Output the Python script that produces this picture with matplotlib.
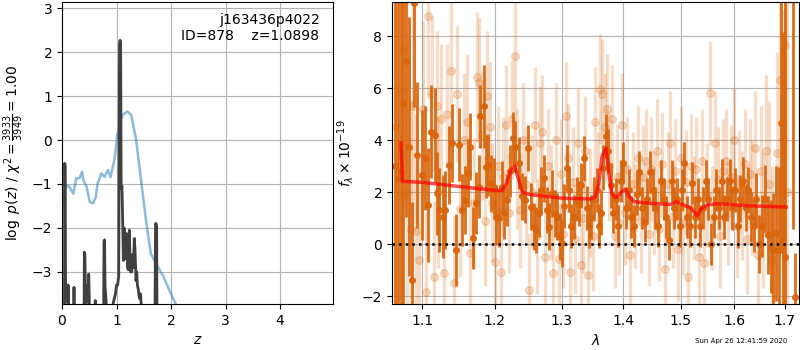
import matplotlib
matplotlib.use('Agg')
import matplotlib.pyplot as plt
from matplotlib.ticker import NullLocator, NullFormatter

# p(z) panel
chi2_z = [0.00, 0.07, 0.13, 0.21, 0.26, 0.32, 0.37, 0.39, 0.45, 0.51, 0.57, 0.62, 0.65,
          0.72, 0.78, 0.84, 0.89, 0.96, 1.02, 1.11, 1.20, 1.27, 1.36, 1.45, 1.54,
          1.63, 1.76, 1.85, 1.97, 2.09, 2.20]
chi2_val = [-1.52, -1.03, -1.06, -1.22, -0.87, -0.87, -0.72, -0.91, -1.06, -1.41, -1.44,
            -1.29, -1.00, -0.76, -0.84, -0.68, -0.84, -0.46, 0.15, 0.57, 0.65, 0.57,
            0.00, -0.91, -1.83, -2.59, -2.89, -3.08, -3.42, -3.74, -4.10]

pz_z = [0.00, 0.045, 0.05, 0.058, 0.065, 0.08, 0.09, 0.10, 0.11, 0.12, 0.13,
        0.21, 0.22, 0.23,
        0.40, 0.41, 0.42, 0.43, 0.45, 0.47, 0.48, 0.49, 0.50, 0.51,
        0.60, 0.61, 0.62,
        0.76, 0.77, 0.78, 0.79, 0.80, 0.81, 0.82,
        0.92, 0.94, 0.96, 0.98, 1.00, 1.02, 1.04, 1.055, 1.065, 1.075, 1.085,
        1.10, 1.115, 1.125, 1.138, 1.156, 1.174, 1.187, 1.20, 1.217, 1.235,
        1.248, 1.26, 1.278, 1.297, 1.31, 1.325, 1.339, 1.358, 1.37, 1.382,
        1.40, 1.419, 1.44, 1.456, 1.47,
        1.70, 1.715, 1.725, 1.735, 1.745, 2.00, 5.00]
pz_val = [-5, -5, -0.53, -0.60, -3.25, -3.35, -3.30, -3.70, -3.30, -3.35, -5,
          -5, -3.35, -5,
          -5, -2.55, -2.60, -3.55, -3.70, -3.30, -3.50, -3.05, -3.60, -5,
          -5, -3.65, -5,
          -5, -2.30, -2.27, -3.35, -3.50, -3.70, -5,
          -5, -3.70, -3.60, -3.50, -3.30, -3.30, -3.10, 2.20, 2.27, 2.20, -1.10,
          -1.05, -2.00, -2.74, -2.00, -2.70, -2.20, -2.13, -2.90, -2.95, -2.05,
          -2.80, -3.00, -3.00, -2.60, -2.90, -2.24, -2.50, -3.20, -3.00, -3.30,
          -3.40, -3.60, -3.50, -3.80, -5,
          -5, -1.90, -1.90, -1.95, -5, -5, -5]

# spectrum panel, bright beam
wave_a = [1.0640, 1.0680, 1.0721, 1.0743, 1.0786, 1.0825, 1.0868, 1.0891, 1.0934, 1.0992,
          1.1036, 1.1076, 1.1116, 1.1170, 1.1201, 1.1228, 1.1274, 1.1309, 1.1360, 1.1401,
          1.1452, 1.1488, 1.1535, 1.1581, 1.1613, 1.1641, 1.1689, 1.1725, 1.1768, 1.1792,
          1.1839, 1.1873, 1.1906, 1.1945, 1.1982, 1.2022, 1.2061, 1.2105, 1.2138, 1.2178,
          1.2226, 1.2266, 1.2300, 1.2355, 1.2400, 1.2445, 1.2484, 1.2525, 1.2574, 1.2605,
          1.2646, 1.2687, 1.2727, 1.2768, 1.2810, 1.2850, 1.2892, 1.2934, 1.2975, 1.3006,
          1.3037, 1.3091, 1.3122, 1.3154, 1.3195, 1.3238, 1.3281, 1.3313, 1.3355, 1.3398,
          1.3435, 1.3474, 1.3516, 1.3560, 1.3605, 1.3637, 1.3670, 1.3713, 1.3746, 1.3791,
          1.3836, 1.3879, 1.3912, 1.3958, 1.4003, 1.4047, 1.4093, 1.4139, 1.4183, 1.4229,
          1.4275, 1.4320, 1.4367, 1.4414, 1.4459, 1.4506, 1.4553, 1.4599, 1.4646, 1.4694,
          1.4740, 1.4788, 1.4837, 1.4883, 1.4932, 1.4980, 1.5027, 1.5064, 1.5113, 1.5162,
          1.5210, 1.5259, 1.5309, 1.5357, 1.5407, 1.5457, 1.5506, 1.5556, 1.5607, 1.5656,
          1.5707, 1.5758, 1.5808, 1.5859, 1.5911, 1.5961, 1.6013, 1.6065, 1.6115, 1.6168,
          1.6221, 1.6272, 1.6325, 1.6378, 1.6429, 1.6483, 1.6537, 1.6589, 1.6657, 1.6709,
          1.6764, 1.6819, 1.6871, 1.6912, 1.6953, 1.7000, 1.7175, 1.7200]
flux_a = [3.00, 2.50, 2.77, 5.43, 7.06, 3.76, -1.37, 9.28, 3.44, 2.67,
          3.30, 1.50, 4.33, 4.21, 1.96, 1.32, 1.06, 1.32, 3.05, 3.89,
          -0.22, 3.83, 1.32, 1.70, 2.73, 3.76, 0.23, 1.58, 2.22, 4.92,
          5.30, 2.99, 3.05, 2.35, 2.22, 1.06, 1.00, 2.22, 1.19, 1.71,
          2.80, 4.08, 3.76, 3.12, 1.84, 1.71, 3.70, 1.45, 0.68, 0.55,
          1.19, 2.09, 2.54, 1.32, 0.68, 1.96, 1.19, 1.06, 0.30, 0.04,
          1.48, 2.95, 2.09, 0.71, 1.05, 1.75, 1.57, 2.26, 3.30, 1.40,
          0.71, 1.05, 1.75, 2.09, 0.71, 1.22, 2.95, 4.15, 3.60, 2.26,
          1.22, 1.75, 0.71, 2.44, 3.13, 1.40, 2.09, 1.05, 0.71, 1.92,
          2.79, 1.40, 0.87, 1.75, 2.79, 2.09, 1.40, 0.71, 2.44, 1.75,
          1.05, 0.18, 2.44, 1.40, 1.75, 0.71, 2.09, 3.13, 1.05, 0.71,
          2.36, 1.05, 1.75, 0.71, 1.40, 2.44, 1.75, 0.01, 1.05, 2.09,
          1.40, 2.44, 1.05, 1.75, 2.44, 1.40, 2.09, 0.71, 1.75, 2.44,
          1.40, 2.09, 1.05, 0.71, 1.75, 0.01, 0.71, 1.75, 0.36, -0.09,
          -0.22, 0.42, -0.22, 4.66, 0.17, -0.50, 12.0, -2.02]
err_a = [15.0, 12.0, 12.0, 12.0, 6.0, 5.0, 3.0, 4.0, 2.8, 2.5,
         2.0, 2.2, 1.8, 1.8, 1.6, 1.6, 1.6, 1.5, 1.5, 1.5,
         1.4, 1.4, 1.4, 1.3, 1.3, 1.3, 1.2, 1.2, 1.2, 1.2,
         1.6, 1.2, 1.2, 1.1, 1.1, 1.1, 1.1, 1.0, 1.0, 1.0,
         1.0, 1.0, 1.0, 1.0, 0.9, 0.9, 0.9, 0.9, 0.9, 0.9,
         0.9, 0.9, 0.9, 0.9, 0.9, 0.9, 0.9, 0.9, 0.9, 0.9,
         0.85, 0.85, 0.85, 0.85, 0.85, 0.85, 0.85, 0.85, 0.85, 0.85,
         0.85, 0.85, 0.85, 0.85, 0.85, 0.85, 0.85, 0.85, 0.85, 0.85,
         0.8, 0.8, 0.8, 0.8, 0.8, 0.8, 0.8, 0.8, 0.8, 0.8,
         0.8, 0.8, 0.8, 0.8, 0.8, 0.8, 0.8, 0.8, 0.8, 0.8,
         0.8, 0.8, 0.8, 0.8, 0.8, 0.8, 0.8, 0.8, 0.8, 0.8,
         0.8, 0.8, 0.8, 0.8, 0.8, 0.8, 0.8, 0.8, 0.8, 0.8,
         0.8, 0.85, 0.85, 0.85, 0.85, 0.85, 0.85, 0.85, 0.9, 0.9,
         0.9, 0.9, 0.95, 1.0, 1.0, 1.1, 1.2, 1.3, 1.5, 1.8,
         2.2, 2.6, 3.2, 5.0, 8.0, 10.0, 11.4, 1.7]

# spectrum panel, faint beam
wave_b = [1.0660, 1.0700, 1.0760, 1.0800, 1.0845, 1.0880, 1.0915, 1.0960, 1.1010, 1.1050,
          1.1080, 1.1130, 1.1155, 1.1190, 1.1215, 1.1250, 1.1290, 1.1330, 1.1385, 1.1420,
          1.1470, 1.1510, 1.1560, 1.1600, 1.1650, 1.1700, 1.1750, 1.1780, 1.1815, 1.1855,
          1.1890, 1.1925, 1.1965, 1.2005, 1.2040, 1.2085, 1.2120, 1.2160, 1.2200, 1.2245,
          1.2287, 1.2330, 1.2375, 1.2420, 1.2460, 1.2505, 1.2550, 1.2590, 1.2630, 1.2670,
          1.2705, 1.2750, 1.2790, 1.2830, 1.2870, 1.2915, 1.2955, 1.2990, 1.3020, 1.3065,
          1.3105, 1.3140, 1.3175, 1.3215, 1.3260, 1.3300, 1.3335, 1.3375, 1.3415, 1.3455,
          1.3495, 1.3540, 1.3580, 1.3620, 1.3655, 1.3690, 1.3730, 1.3770, 1.3815, 1.3855,
          1.3895, 1.3935, 1.3980, 1.4025, 1.4070, 1.4115, 1.4160, 1.4205, 1.4250, 1.4298,
          1.4345, 1.4390, 1.4435, 1.4480, 1.4530, 1.4575, 1.4620, 1.4670, 1.4715, 1.4765,
          1.4810, 1.4860, 1.4905, 1.4955, 1.5005, 1.5045, 1.5090, 1.5138, 1.5185, 1.5235,
          1.5285, 1.5333, 1.5380, 1.5430, 1.5480, 1.5530, 1.5580, 1.5630, 1.5680, 1.5730,
          1.5785, 1.5835, 1.5885, 1.5935, 1.5985, 1.6040, 1.6090, 1.6140, 1.6195, 1.6245,
          1.6300, 1.6350, 1.6405, 1.6455, 1.6510, 1.6560, 1.6620, 1.6685, 1.6735, 1.6840,
          1.6890, 1.6965, 1.7005, 1.7040]
flux_b = [4.50, 6.00, 7.50, 2.00, 0.60, 5.30, 0.50, -0.60, 5.20, -1.85,
          8.80, 5.80, -1.25, 5.30, 2.00, 4.80, -1.10, 5.00, 6.65, -1.48,
          5.78, 1.35, 4.00, 4.70, -0.35, 1.60, 6.45, 6.20, 4.20, 0.90,
          5.70, 4.50, 1.60, -0.70, 3.00, -1.05, 2.60, 4.60, 1.20, 4.80,
          7.23, 2.90, 1.30, 4.00, 2.30, -1.76, 2.00, 4.60, 0.30, 3.90,
          4.30, -0.50, 3.00, 1.60, -1.10, 4.00, -0.55, 2.70, 0.40, 4.92,
          3.30, -1.05, 2.40, 0.20, 3.90, -0.80, 1.00, 3.60, -1.20, 1.60,
          0.30, 4.70, 2.20, 5.97, 5.79, 4.50, 5.20, 3.00, 4.80, 0.30,
          2.60, 0.80, 4.60, 1.20, 2.90, -0.40, 2.30, 1.10, 3.30, 0.90,
          2.60, 3.20, 0.40, 2.90, 1.60, 3.60, 0.60, 3.10, -0.96, 2.30,
          3.90, 1.10, 2.80, -0.20, 3.30, 0.80, 2.40, -1.25, 3.00, 1.40,
          2.90, -0.50, 3.20, -0.73, 1.90, 5.81, 1.00, 3.90, 2.50, 0.30,
          2.80, 3.20, 1.20, 2.60, 4.00, 0.70, 2.40, 1.50, 3.10, 0.20,
          2.70, 1.80, 3.70, -0.40, 2.80, 0.90, 3.60, 2.30, -0.60, 3.50,
          6.33, 4.00, 7.68, 2.00]
err_b = [12.0, 8.0, 6.0, 6.0, 5.0, 4.5, 4.5, 4.0, 3.4, 3.1,
         3.2, 3.0, 2.9, 2.9, 2.9, 2.9, 2.7, 2.7, 2.7, 2.6,
         2.6, 2.6, 2.6, 2.6, 2.6, 2.5, 2.5, 2.5, 2.5, 2.5,
         2.5, 2.5, 2.3, 2.3, 2.3, 2.3, 2.3, 2.3, 2.3, 2.3,
         2.3, 2.3, 2.2, 2.2, 2.2, 2.2, 2.2, 2.2, 2.2, 2.2,
         2.2, 2.2, 2.2, 2.2, 2.2, 2.2, 2.1, 2.1, 2.1, 2.1,
         2.1, 2.1, 2.1, 2.1, 2.1, 2.1, 2.1, 2.1, 2.1, 2.1,
         2.1, 2.1, 2.1, 2.1, 2.1, 2.1, 2.1, 2.1, 2.1, 2.0,
         2.0, 2.0, 2.0, 2.0, 2.0, 2.0, 2.0, 2.0, 2.0, 2.0,
         2.0, 2.0, 2.0, 2.0, 2.0, 2.0, 2.0, 2.0, 2.0, 2.0,
         2.0, 2.0, 2.0, 2.0, 2.0, 2.0, 2.0, 2.0, 2.0, 2.0,
         2.0, 2.0, 2.0, 2.0, 2.0, 2.0, 2.0, 2.0, 2.0, 2.0,
         2.0, 2.0, 2.0, 2.0, 2.0, 2.0, 2.0, 2.1, 2.1, 2.1,
         2.1, 2.2, 2.2, 2.3, 2.5, 2.6, 2.9, 3.2, 3.6, 3.9,
         4.2, 5.0, 4.5, 10.0]

# best-fit model
model_wave = [1.0721, 1.0740, 1.1000, 1.1500, 1.2000, 1.2100, 1.2170, 1.2230, 1.2286, 1.2340,
              1.2400, 1.2440, 1.2500, 1.3000, 1.3466, 1.3540, 1.3600, 1.3650, 1.3713, 1.3760,
              1.3810, 1.3860, 1.3899, 1.3960, 1.4036, 1.4100, 1.4183, 1.4410, 1.4824, 1.4915,
              1.5000, 1.5186, 1.5300, 1.5367, 1.5494, 1.5690, 1.6260, 1.7025]
model_flux = [3.90, 2.42, 2.38, 2.22, 2.07, 2.07, 2.35, 2.85, 3.03, 2.55,
              2.03, 1.96, 1.92, 1.77, 1.74, 1.84, 2.40, 3.40, 3.70, 2.73,
              1.96, 1.81, 1.82, 1.99, 2.12, 1.84, 1.64, 1.58, 1.53, 1.64,
              1.55, 1.39, 1.09, 1.35, 1.52, 1.56, 1.48, 1.43]

wave_ticks = [1.1, 1.2, 1.3, 1.4, 1.5, 1.6, 1.7]
orange = '#d9660d'

fig = plt.figure(figsize=(8, 3.5), dpi=100)

#Left: redshift probability
ax1 = fig.add_axes([0.0775, 0.1314, 0.3388, 0.8629])
ax1.plot(chi2_z, chi2_val, color='C0', alpha=0.5, lw=1.8)
ax1.plot(pz_z, pz_val, color='0.25', lw=2)
ax1.set_xlim(0, 4.97)
ax1.set_ylim(-3.73, 3.14)
ax1.set_xlabel('$z$')
ax1.set_ylabel(r'$\log\ p(z)$ / $\chi^2=\frac{3933}{3949}=1.00$')
ax1.text(0.95, 0.965, 'j163436p4022\nID=878    z=1.0898', ha='right', va='top',
         transform=ax1.transAxes)
ax1.grid(color='0.7')
ax1.set_axisbelow(True)

#Right: 1D spectrum
ax2 = fig.add_axes([0.49, 0.1314, 0.50875, 0.8629])
ax2.errorbar(wave_b, flux_b, yerr=err_b, marker='o', linestyle='none', color=orange,
             alpha=0.22, ms=5.5, elinewidth=2.4, capsize=0)
ax2.errorbar(wave_a, flux_a, yerr=err_a, marker='o', linestyle='none', color=orange,
             alpha=0.95, ms=4, elinewidth=2.0, capsize=0)
ax2.plot(model_wave, model_flux, color='red', alpha=0.7, lw=2.5, zorder=10)
ax2.axhline(0, color='k', linestyle=':', lw=1.8, zorder=11)
ax2.set_xscale('log')
ax2.set_xlim(1.0606, 1.729)
ax2.set_ylim(-2.3, 9.32)
ax2.set_xticks(wave_ticks)
ax2.set_xticklabels([str(w) for w in wave_ticks])
ax2.xaxis.set_minor_locator(NullLocator())
ax2.xaxis.set_minor_formatter(NullFormatter())
ax2.set_xlabel(r'$\lambda$')
ax2.set_ylabel(r'$f_\lambda\times10^{-19}$')
ax2.grid(color='0.7')
ax2.set_axisbelow(True)

fig.text(0.984, 0.018, 'Sun Apr 26 12:41:59 2020', ha='right', va='bottom', fontsize=5)

fig.savefig('out.png', dpi=100)
